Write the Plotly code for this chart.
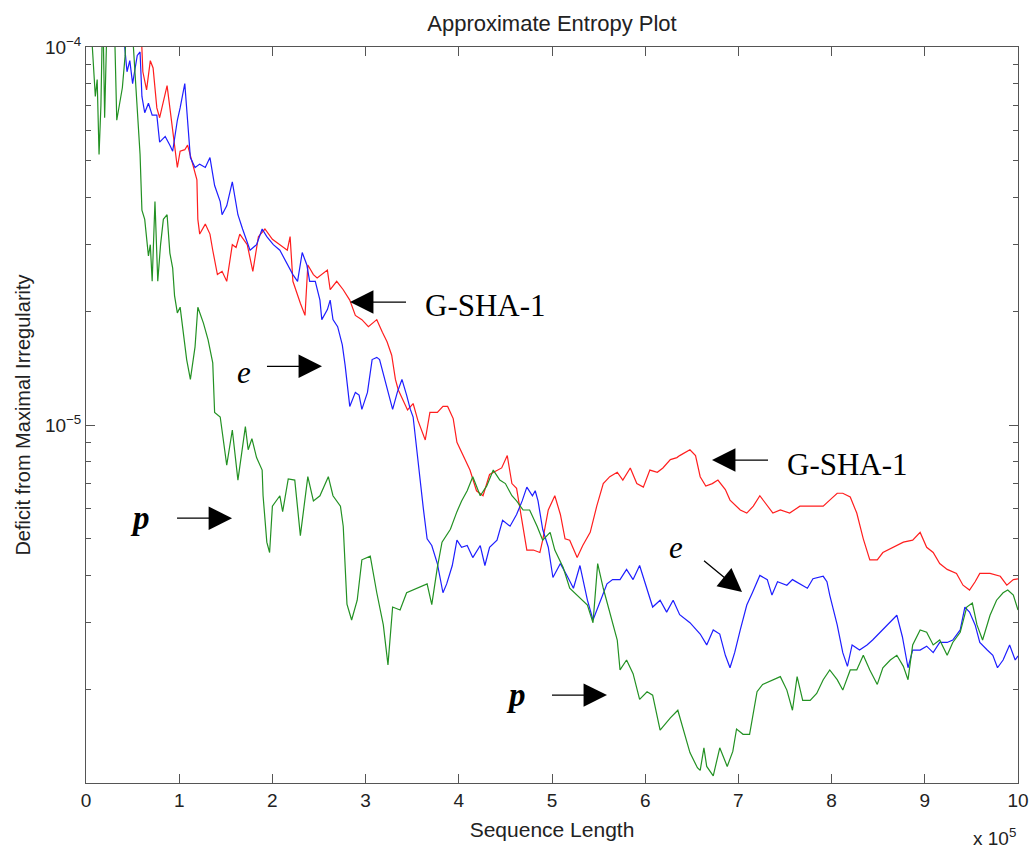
import numpy as np
import plotly.graph_objects as go

# Sequence length in units of 1e5, deficit in units of 1e-6
red_x = [0.58, 0.60, 0.61, 0.65, 0.69, 0.72, 0.76, 0.79, 0.83, 0.87,
         0.90, 0.93, 0.98, 1.01, 1.06, 1.09, 1.15, 1.19, 1.20, 1.22,
         1.28, 1.33, 1.36, 1.41, 1.46, 1.51, 1.57, 1.61, 1.65, 1.73,
         1.79, 1.85, 1.92, 2.00, 2.08, 2.16, 2.19, 2.22, 2.30, 2.35,
         2.38, 2.44, 2.48, 2.53, 2.59, 2.62, 2.69, 2.76, 2.83, 2.89,
         2.96, 3.03, 3.12, 3.18, 3.23, 3.28, 3.32, 3.35, 3.40, 3.45,
         3.51, 3.56, 3.64, 3.69, 3.77, 3.83, 3.88, 3.94, 3.98, 4.05,
         4.12, 4.19, 4.26, 4.33, 4.41, 4.46, 4.52, 4.57, 4.62, 4.68,
         4.73, 4.80, 4.87, 4.90, 4.96, 5.03, 5.09, 5.14, 5.19, 5.27,
         5.33, 5.41, 5.48, 5.55, 5.62, 5.70, 5.76, 5.84, 5.91, 5.98,
         6.05, 6.13, 6.19, 6.27, 6.34, 6.37, 6.48, 6.54, 6.59, 6.65,
         6.72, 6.78, 6.86, 6.91, 7.02, 7.09, 7.16, 7.23, 7.31, 7.37,
         7.45, 7.55, 7.66, 7.80, 7.91, 7.98, 8.06, 8.12, 8.20, 8.27,
         8.34, 8.41, 8.49, 8.55, 8.66, 8.77, 8.87, 8.95, 9.02, 9.09,
         9.16, 9.24, 9.34, 9.41, 9.48, 9.54, 9.59, 9.70, 9.81, 9.88,
         9.95, 10.0]
red_y = [130, 98, 86, 77, 92, 88, 69, 65, 72, 79,
         69, 60, 48, 53, 53.5, 55, 48, 44.5, 35, 32,
         34, 32, 29, 25, 25.5, 24, 30, 29.5, 32, 30,
         25.5, 31.5, 33, 31, 30, 29, 31.5, 24, 21, 19.5,
         26.5, 25, 24.5, 25, 25.7, 22.8, 24, 22.8, 21.4, 19.5,
         19, 18.2, 19, 17.6, 16.6, 15.3, 13.2, 12.4, 11.6, 10.96,
         11.4, 10.3, 9.13, 10.8, 10.8, 11.2, 11.2, 10.4, 9.0, 8.3,
         7.6, 6.7, 6.5, 7.4, 7.6, 7.7, 8.3, 7.0, 6.8, 5.6,
         4.67, 4.67, 4.6, 4.96, 5.96, 6.5, 5.8, 5.0, 4.96, 4.46,
         4.8, 5.2, 6.1, 7.0, 7.3, 7.5, 7.15, 7.7, 7.0, 6.85,
         7.6, 7.5, 7.7, 8.1, 8.2, 8.3, 8.6, 8.3, 7.3, 6.9,
         7.0, 7.15, 6.75, 6.33, 5.96, 5.85, 6.1, 6.5, 6.1, 5.85,
         5.96, 5.85, 6.1, 6.1, 6.1, 6.33, 6.6, 6.6, 6.45, 5.85,
         5.0, 4.4, 4.4, 4.6, 4.75, 4.9, 4.96, 5.2, 4.75, 4.6,
         4.3, 4.15, 4.05, 3.77, 3.66, 3.85, 4.05, 4.05, 3.98, 3.77,
         3.9, 3.92]

blue_x = [0.36, 0.40, 0.44, 0.47, 0.50, 0.55, 0.58, 0.60, 0.63, 0.67,
          0.71, 0.76, 0.79, 0.85, 0.90, 0.93, 0.98, 1.01, 1.06, 1.08,
          1.12, 1.17, 1.22, 1.28, 1.33, 1.38, 1.44, 1.46, 1.51, 1.57,
          1.63, 1.68, 1.76, 1.83, 1.89, 1.94, 2.01, 2.08, 2.16, 2.22,
          2.27, 2.32, 2.37, 2.40, 2.46, 2.51, 2.53, 2.59, 2.62, 2.65,
          2.70, 2.75, 2.78, 2.80, 2.83, 2.89, 2.93, 2.96, 3.02, 3.07,
          3.12, 3.15, 3.19, 3.24, 3.29, 3.34, 3.39, 3.44, 3.48, 3.51,
          3.55, 3.58, 3.62, 3.66, 3.71, 3.77, 3.80, 3.83, 3.87, 3.93,
          3.98, 4.03, 4.09, 4.15, 4.23, 4.28, 4.33, 4.41, 4.47, 4.55,
          4.62, 4.68, 4.73, 4.79, 4.82, 4.85, 4.90, 4.96, 5.01, 5.09,
          5.16, 5.23, 5.30, 5.38, 5.44, 5.52, 5.59, 5.65, 5.73, 5.80,
          5.87, 5.94, 6.02, 6.08, 6.16, 6.23, 6.30, 6.37, 6.48, 6.59,
          6.66, 6.73, 6.80, 6.86, 6.91, 6.96, 7.02, 7.09, 7.15, 7.23,
          7.31, 7.36, 7.42, 7.52, 7.58, 7.66, 7.74, 7.80, 7.91, 7.95,
          7.98, 8.06, 8.12, 8.17, 8.22, 8.30, 8.38, 8.44, 8.52, 8.59,
          8.70, 8.76, 8.82, 8.87, 8.95, 9.02, 9.09, 9.16, 9.24, 9.30,
          9.38, 9.43, 9.48, 9.54, 9.59, 9.67, 9.73, 9.78, 9.84, 9.91,
          9.97, 10.0]
blue_y = [130, 110, 86, 92, 80, 95, 97, 74, 67, 71,
          66, 66, 56, 58, 55, 53, 64, 69, 80, 70,
          51, 48, 49, 48, 51, 43, 39, 36, 38, 44,
          36, 33, 29, 30, 33, 31.5, 30, 29, 26.5, 25,
          24, 28.6, 26.5, 24, 24, 21.4, 19, 20.2, 21.4, 19,
          18.2, 16.3, 14.4, 13.2, 11.2, 12.2, 12.0, 11.0, 12.2, 14.9,
          15.1, 14.9, 13.6, 12.2, 11.0, 12.2, 13.2, 12.0, 11.0, 10.5,
          8.6, 7.15, 6.0, 5.0, 4.8, 4.3, 3.95, 3.6, 3.8, 4.25,
          4.96, 4.75, 4.8, 4.46, 4.8, 4.25, 4.75, 4.96, 5.6, 5.4,
          5.8, 6.3, 6.85, 6.5, 6.7, 6.3, 5.3, 4.75, 3.95, 4.3,
          4.0, 3.7, 4.25, 3.44, 3.05, 3.44, 3.8, 3.9, 3.9, 4.15,
          3.9, 4.25, 3.7, 3.3, 3.44, 3.2, 3.44, 3.15, 3.0, 2.8,
          2.62, 2.87, 2.8, 2.46, 2.28, 2.5, 2.87, 3.34, 3.6, 4.0,
          3.9, 3.55, 3.85, 3.77, 3.9, 3.8, 3.7, 3.92, 3.98, 3.85,
          3.55, 2.96, 2.5, 2.3, 2.62, 2.54, 2.62, 2.7, 2.83, 2.96,
          3.14, 2.75, 2.28, 2.54, 2.54, 2.6, 2.5, 2.66, 2.66, 2.7,
          2.87, 3.3, 3.2, 2.96, 2.66, 2.54, 2.46, 2.28, 2.39, 2.62,
          2.39, 2.45]

green_x = [0.01, 0.04, 0.10, 0.12, 0.14, 0.16, 0.18, 0.20, 0.23, 0.30,
           0.33, 0.36, 0.39, 0.42, 0.44, 0.48, 0.52, 0.55, 0.58, 0.60,
           0.63, 0.67, 0.69, 0.71, 0.74, 0.77, 0.80, 0.83, 0.87, 0.90,
           0.93, 0.95, 0.98, 1.01, 1.04, 1.08, 1.12, 1.17, 1.20, 1.26,
           1.31, 1.36, 1.38, 1.44, 1.51, 1.57, 1.63, 1.71, 1.74, 1.78,
           1.83, 1.89, 1.90, 1.94, 1.97, 2.00, 2.08, 2.11, 2.17, 2.24,
           2.30, 2.38, 2.44, 2.51, 2.60, 2.65, 2.73, 2.76, 2.80, 2.85,
           2.91, 2.96, 3.05, 3.12, 3.19, 3.24, 3.29, 3.37, 3.44, 3.55,
           3.66, 3.71, 3.77, 3.82, 3.91, 3.98, 4.03, 4.09, 4.15, 4.23,
           4.30, 4.37, 4.44, 4.50, 4.57, 4.62, 4.69, 4.76, 4.84, 4.90,
           4.98, 5.03, 5.12, 5.19, 5.27, 5.38, 5.44, 5.49, 5.55, 5.62,
           5.70, 5.73, 5.80, 5.87, 5.94, 6.02, 6.08, 6.16, 6.27, 6.35,
           6.41, 6.48, 6.56, 6.59, 6.63, 6.66, 6.73, 6.80, 6.88, 6.94,
           6.98, 7.05, 7.12, 7.20, 7.26, 7.37, 7.45, 7.52, 7.58, 7.63,
           7.69, 7.77, 7.84, 7.91, 7.98, 8.06, 8.12, 8.20, 8.27, 8.34,
           8.41, 8.49, 8.55, 8.63, 8.70, 8.77, 8.82, 8.87, 8.95, 9.02,
           9.09, 9.16, 9.24, 9.30, 9.38, 9.45, 9.51, 9.56, 9.62, 9.70,
           9.77, 9.84, 9.89, 9.95, 10.0]
green_y = [130, 130, 74, 82, 52, 70, 130, 65, 130, 130,
           64, 70, 78, 95, 130, 130, 90, 70, 52, 37,
           35, 28, 30, 24, 39, 24, 30, 35, 36, 28.5,
           26, 22, 19.8, 20.5, 17.6, 14.9, 13.2, 16.1, 20.5, 18.6,
           16.8, 14.6, 10.8, 10.5, 7.83, 9.7, 7.15, 9.9, 8.6, 9.2,
           8.2, 7.6, 6.5, 4.9, 4.6, 6.1, 6.5, 5.9, 7.2, 7.15,
           5.1, 7.3, 6.3, 6.5, 7.3, 6.5, 6.1, 5.4, 3.36, 3.05,
           3.44, 4.4, 4.5, 3.6, 2.96, 2.32, 3.3, 3.24, 3.6, 3.7,
           3.8, 3.35, 4.2, 4.9, 5.3, 5.9, 6.3, 6.7, 7.3, 6.5,
           6.9, 7.6, 7.15, 7.0, 6.5, 6.3, 5.96, 5.96, 5.4, 4.96,
           5.2, 4.67, 4.2, 3.7, 3.55, 3.34, 3.0, 4.3, 3.7, 3.2,
           2.7, 2.25, 2.39, 2.2, 1.88, 1.97, 1.93, 1.56, 1.68, 1.76,
           1.56, 1.36, 1.24, 1.22, 1.40, 1.25, 1.18, 1.40, 1.25, 1.37,
           1.57, 1.52, 1.52, 1.97, 2.06, 2.12, 2.16, 1.99, 1.76, 2.16,
           1.87, 1.87, 1.95, 2.12, 2.25, 2.12, 1.99, 2.25, 2.25, 2.46,
           2.25, 2.06, 2.28, 2.39, 2.46, 2.3, 2.12, 2.62, 2.87, 2.83,
           2.62, 2.70, 2.46, 2.66, 2.83, 3.3, 3.38, 2.96, 2.7, 3.14,
           3.44, 3.6, 3.66, 3.55, 3.24]

x_ticks = list(range(0, 11))
y_major = [1e-5, 1e-4]
y_major_text = ["10<sup>\u22125</sup>", "10<sup>\u22124</sup>"]
y_minor = [k * 1e-6 for k in range(2, 10)] + [k * 1e-5 for k in range(2, 10)]

# annotation labels: (text, x, y value, xanchor, font size)
labels = [
    ("G-SHA-1", 3.616, 2.077e-5, "left", 31),
    ("G-SHA-1", 7.50, 7.885e-6, "left", 31),
    ("<i>e</i>", 1.69, 1.38e-5, "center", 31),
    ("<i>e</i>", 6.33, 4.73e-6, "center", 31),
    ("<b><i>p</i></b>", 0.579, 5.67e-6, "center", 33),
    ("<b><i>p</i></b>", 4.614, 1.93e-6, "center", 33),
]
# arrows: (tip x, tip y value, tail offset dx px, tail offset dy px)
arrows = [
    (2.833, 2.115e-5, 58, 0),
    (6.717, 8.08e-6, 58, 0),
    (2.532, 1.43e-5, -57, 0),
    (1.567, 5.67e-6, -57, 0),
    (7.039, 3.616e-6, -40, -33),
    (5.590, 1.93e-6, -57, 0),
]

fig = go.Figure()
for xs, ys, col in [(red_x, red_y, "rgb(255,30,30)"),
                    (blue_x, blue_y, "rgb(30,30,255)"),
                    (green_x, green_y, "rgb(35,145,35)")]:
    assert len(xs) == len(ys)
    fig.add_trace(go.Scatter(x=xs, y=np.array(ys) * 1e-6, mode="lines",
                             line=dict(color=col, width=1.2),
                             showlegend=False, hoverinfo="skip"))

ann = []
for text, x, y, xa, fs in labels:
    ann.append(dict(text=text, x=x, y=np.log10(y), xref="x", yref="y",
                    xanchor=xa, yanchor="middle", showarrow=False,
                    font=dict(family="Liberation Serif, Times New Roman, serif",
                              size=fs, color="black")))
for x, y, dx, dy in arrows:
    ann.append(dict(text=" ", x=x, y=np.log10(y), xref="x", yref="y",
                    showarrow=True, ax=dx, ay=dy, arrowhead=2, arrowsize=3.6,
                    arrowwidth=1.3, arrowcolor="black", standoff=0,
                    font=dict(size=2)))
ann.append(dict(text="x 10<sup>5</sup>", x=1.0, y=-0.074, xref="paper", yref="paper",
                xanchor="right", yanchor="middle", showarrow=False,
                font=dict(size=19, color="#222")))

fig.update_layout(
    width=1031, height=851,
    margin=dict(l=86, r=13, t=47, b=68),
    paper_bgcolor="white", plot_bgcolor="white",
    font=dict(family="Liberation Sans, Arial, sans-serif", color="#222", size=19),
    title=dict(text="Approximate Entropy Plot", x=0.5, xref="paper",
               y=1 - 23 / 851, yref="container", xanchor="center", yanchor="middle",
               font=dict(size=22, color="#222")),
    showlegend=False,
    annotations=ann,
)
fig.update_xaxes(range=[0, 10], tickvals=x_ticks, ticks="inside", ticklen=9,
                 tickcolor="#555", showline=True, linecolor="#555", linewidth=1,
                 mirror="ticks", showgrid=False, zeroline=False, automargin=False,
                 tickfont=dict(size=19),
                 title=dict(text="Sequence Length", font=dict(size=21), standoff=12))
fig.update_yaxes(type="log", range=[np.log10(1.13e-6), -4],
                 tickvals=y_major, ticktext=y_major_text, ticks="inside", ticklen=9,
                 tickcolor="#555", showline=True, linecolor="#555", linewidth=1,
                 mirror="ticks", showgrid=False, zeroline=False, automargin=False,
                 tickfont=dict(size=19),
                 minor=dict(tickvals=y_minor, ticks="inside", ticklen=5, tickcolor="#555",
                            showgrid=False),
                 title=dict(text="Deficit from Maximal Irregularity", font=dict(size=20),
                            standoff=8))

fig.write_html("out.html",
               config={"displayModeBar": False},
               post_script="document.body.style.margin='0';"
                           "document.documentElement.style.overflow='hidden';"
                           "document.body.style.overflow='hidden';")
